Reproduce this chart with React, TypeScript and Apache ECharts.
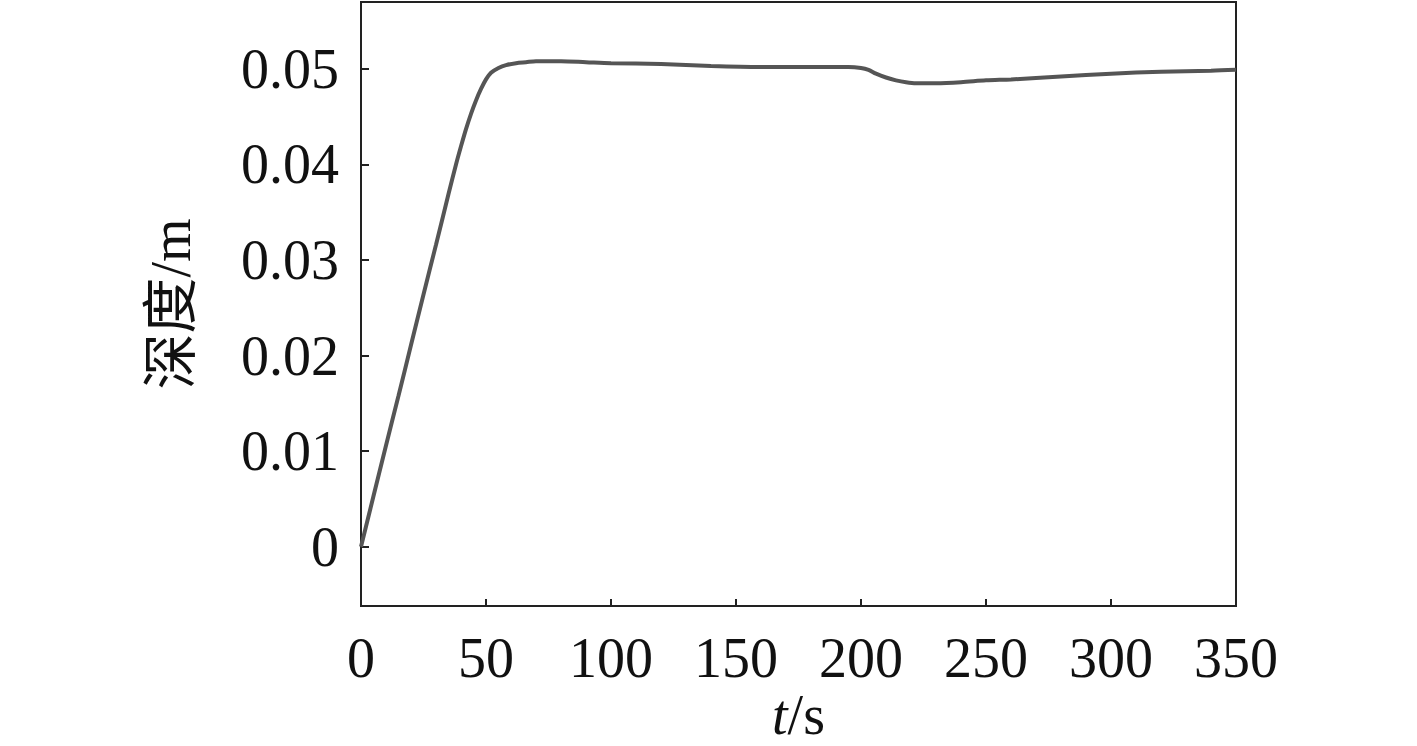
import React, { useEffect, useRef } from "react";
import * as echarts from "echarts";

const timeS = [0, 5, 10, 15, 20, 25, 30, 35, 38, 40, 42, 44, 46, 48, 50, 52, 55, 58, 62, 66, 70, 75, 80, 90, 100, 120, 140, 160, 180, 195, 200, 203, 206, 210, 214, 218, 222, 226, 230, 240, 250, 260, 280, 300, 320, 340, 350];
const depthM = [0, 0.0053, 0.0106, 0.0158, 0.0211, 0.0264, 0.0316, 0.0369, 0.04, 0.0419, 0.0437, 0.0453, 0.0467, 0.0479, 0.0489, 0.0496, 0.0501, 0.0504, 0.0506, 0.0507, 0.0508, 0.0508, 0.0508, 0.0507, 0.0506, 0.0505, 0.0503, 0.0502, 0.0502, 0.0502, 0.0501, 0.0499, 0.0495, 0.0491, 0.0488, 0.0486, 0.0485, 0.0485, 0.0485, 0.0486, 0.0488, 0.0489, 0.0492, 0.0495, 0.0497, 0.0498, 0.0499];
const yTicks = [0, 0.01, 0.02, 0.03, 0.04, 0.05];
const xTicks = [0, 50, 100, 150, 200, 250, 300, 350];

const FONT = "'Liberation Serif', 'Times New Roman', 'Noto Sans CJK SC', serif";

export default function App() {
  const ref = useRef<HTMLDivElement>(null);
  useEffect(() => {
    if (!ref.current) return;
    const chart = echarts.init(ref.current, undefined, { renderer: "svg" });
    chart.setOption({
      animation: false,
      backgroundColor: "#ffffff",
      grid: {
        left: 361,
        top: 2,
        right: 181,
        bottom: 140,
        show: true,
        borderColor: "#222",
        borderWidth: 2,
        containLabel: false,
        outerBoundsMode: "none",
      },
      xAxis: {
        type: "value",
        min: 0,
        max: 350,
        interval: 50,
        name: "{i|t}/s",
        nameLocation: "middle",
        nameGap: 88,
        nameMoveOverlap: false,
        nameTextStyle: {
          fontFamily: FONT,
          fontSize: 56,
          lineHeight: 42,
          color: "#111",
          rich: {
            i: { fontFamily: FONT, fontSize: 56, lineHeight: 42, fontStyle: "italic", color: "#111" },
          },
        },
        axisLine: { show: true, onZero: false, lineStyle: { color: "#222", width: 2 } },
        axisTick: { show: true, inside: true, length: 7, lineStyle: { color: "#222", width: 2 }, customValues: xTicks },
        axisLabel: {
          fontFamily: FONT,
          fontSize: 56,
          color: "#111",
          margin: 24,
          customValues: xTicks,
          formatter: (v: number) => String(v),
        },
        splitLine: { show: false },
      },
      yAxis: {
        type: "value",
        min: -0.0062,
        max: 0.057,
        name: "深度/m",
        nameLocation: "middle",
        nameGap: 162,
        nameRotate: 90,
        nameMoveOverlap: false,
        nameTextStyle: { fontFamily: FONT, fontSize: 56, color: "#111" },
        axisLine: { show: true, onZero: false, lineStyle: { color: "#222", width: 2 } },
        axisTick: { show: true, inside: true, length: 8, lineStyle: { color: "#222", width: 2 }, customValues: yTicks },
        axisLabel: {
          fontFamily: FONT,
          fontSize: 56,
          color: "#111",
          margin: 22,
          customValues: yTicks,
          formatter: (v: number) => (v === 0 ? "0" : v.toFixed(2)),
        },
        splitLine: { show: false },
      },
      series: [
        {
          type: "line",
          data: timeS.map((t, i) => [t, depthM[i]]),
          showSymbol: false,
          smooth: 0.3,
          lineStyle: { color: "#555", width: 4 },
        },
      ],
    });
    return () => chart.dispose();
  }, []);
  return <div ref={ref} style={{ position: "fixed", left: 0, top: 0, width: 1417, height: 746, background: "#fff" }} />;
}
